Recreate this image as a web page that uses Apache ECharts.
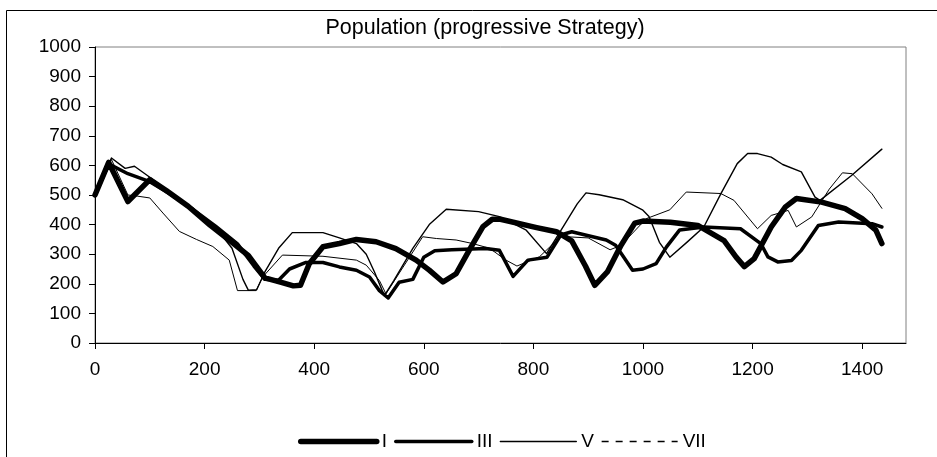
<!DOCTYPE html>
<html>
<head>
<meta charset="utf-8">
<script src="https://cdn.jsdelivr.net/npm/echarts@6/dist/echarts.min.js"></script>
<style>
html,body{margin:0;padding:0;background:#fff;}
#chart{width:937px;height:457px;}
</style>
</head>
<body>
<div id="chart"></div>
<script>
const titleText = 'Population (progressive Strategy)';
const seriesNames = ['I', 'III', 'V', 'VII'];
const xTicks = [0, 200, 400, 600, 800, 1000, 1200, 1400];

const seriesI = [[0,500],[25,610],[60,478],[100,552],[130,515],[170,462],[210,398],[250,340],[280,295],[310,220],[340,205],[362,193],[375,195],[391,268],[416,325],[446,336],[477,350],[513,342],[549,319],[586,280],[610,246],[635,206],[659,234],[683,314],[708,393],[725,418],[740,418],[806,390],[842,376],[870,345],[895,260],[912,195],[935,240],[960,330],[985,405],[1000,412],[1050,408],[1100,397],[1148,346],[1170,290],[1185,258],[1203,285],[1234,392],[1260,460],[1280,488],[1326,476],[1369,454],[1400,420],[1425,381],[1436,336]];

const seriesIII = [[0,500],[25,605],[60,572],[100,545],[140,500],[180,450],[220,395],[260,335],[290,260],[310,215],[335,212],[355,250],[385,272],[416,272],[446,257],[477,246],[501,223],[519,177],[535,152],[555,205],[580,215],[600,290],[620,312],[651,315],[713,319],[738,313],[763,225],[790,280],[825,290],[850,365],[870,376],[933,348],[950,330],[965,290],[981,246],[1000,250],[1024,268],[1043,325],[1067,382],[1111,392],[1178,386],[1215,336],[1228,291],[1246,274],[1271,279],[1289,313],[1320,397],[1357,409],[1418,403],[1436,392]];

const seriesV = [[0,500],[30,625],[55,590],[72,597],[100,560],[140,505],[180,445],[220,390],[250,320],[270,215],[280,178],[295,180],[310,240],[335,320],[360,373],[416,373],[446,355],[477,336],[495,300],[510,240],[528,160],[545,210],[580,320],[610,400],[641,452],[700,444],[738,427],[787,381],[824,302],[850,380],[880,470],[896,507],[920,501],[963,484],[999,450],[1011,427],[1030,340],[1049,290],[1080,340],[1111,392],[1142,504],[1172,606],[1191,640],[1209,640],[1234,628],[1255,603],[1289,578],[1314,493],[1323,482],[1380,565],[1436,655]];

const seriesVII = [[0,495],[30,620],[60,500],[78,496],[100,490],[124,439],[154,377],[185,350],[215,326],[245,280],[260,177],[294,177],[306,223],[342,297],[416,293],[477,280],[495,263],[519,211],[531,166],[560,250],[598,359],[623,353],[659,348],[689,336],[720,320],[750,280],[770,260],[811,291],[850,360],[900,355],[940,315],[960,330],[1006,420],[1049,450],[1079,510],[1142,505],[1166,482],[1209,386],[1234,431],[1265,448],[1280,392],[1308,426],[1340,520],[1364,575],[1382,572],[1418,504],[1436,455]];

const chart = echarts.init(document.getElementById('chart'), null, {renderer: 'canvas'});
const font = 'Liberation Sans, Arial, sans-serif';
const widths = [5.5, 3.5, 1.4, 1];
const legendWidths = [5.5, 3.5, 1.4, 1.3];
const dataList = [seriesI, seriesIII, seriesV, seriesVII];

chart.setOption({
  animation: false,
  backgroundColor: '#fff',
  title: {
    text: titleText, left: 480, top: 12, textAlign: 'center',
    textStyle: {fontFamily: font, fontSize: 21.5, fontWeight: 'normal', color: '#000'}
  },
  graphic: [{
    type: 'rect', silent: true,
    shape: {x: 6.5, y: 10.5, width: 1000, height: 1000},
    style: {fill: 'none', stroke: '#000', lineWidth: 1}
  }],
  legend: {
    left: 293, top: 427, itemWidth: 76, itemHeight: 16, itemGap: 7,
    textStyle: {fontFamily: font, fontSize: 19, color: '#000'},
    data: seriesNames.map((n, i) => ({
      name: n,
      itemStyle: {opacity: 0},
      lineStyle: {width: legendWidths[i], type: i === 3 ? [7, 7] : 'solid', cap: i === 3 ? 'butt' : 'round'}
    }))
  },
  grid: {
    left: 95, right: 31, top: 47, bottom: 114,
    show: true, borderColor: '#808080', borderWidth: 1, backgroundColor: '#fff'
  },
  xAxis: {
    type: 'value', min: 0, max: 1480, interval: 200,
    splitLine: {show: false},
    axisLine: {lineStyle: {color: '#000', width: 1}},
    axisTick: {inside: false, length: 6, lineStyle: {color: '#000'}, customValues: xTicks},
    axisLabel: {fontFamily: font, fontSize: 19, color: '#000', margin: 17, customValues: xTicks,
      formatter: v => String(v)}
  },
  yAxis: {
    type: 'value', min: 0, max: 1000, interval: 100,
    splitLine: {show: false},
    axisLine: {show: true, lineStyle: {color: '#000', width: 1}},
    axisTick: {show: true, inside: false, length: 6, lineStyle: {color: '#000'}},
    axisLabel: {fontFamily: font, fontSize: 19, color: '#000', margin: 14,
      formatter: v => String(v)}
  },
  series: seriesNames.map((n, i) => ({
    name: n, type: 'line', data: dataList[i],
    symbol: 'none', showSymbol: false,
    lineStyle: {color: '#000', width: widths[i], cap: 'round', join: 'round'},
    itemStyle: {color: '#000'}
  }))
});
</script>
</body>
</html>
